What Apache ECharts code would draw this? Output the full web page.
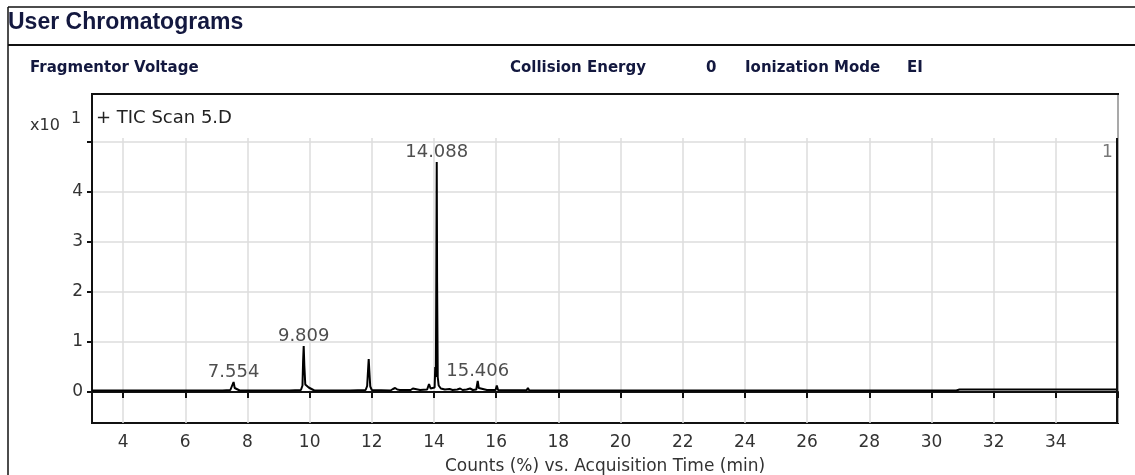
<!DOCTYPE html>
<html>
<head>
<meta charset="utf-8">
<title>User Chromatograms</title>
<script src="https://cdn.jsdelivr.net/npm/echarts@6/dist/echarts.min.js"></script>
<style>
  html, body { margin: 0; padding: 0; background: #fff; }
  #chart { width: 1135px; height: 475px; }
</style>
</head>
<body>
<div id="chart"></div>
<script>
// TIC trace: [time (min), counts x10^1]
const ticTrace = [
  [3.00, 0.03],
  [4.28, 0.03], [4.30, 0.05], [4.32, 0.03],
  [5.33, 0.03], [5.35, 0.045], [5.37, 0.03],
  [7.20, 0.03], [7.45, 0.04], [7.50, 0.07], [7.554, 0.2], [7.59, 0.08], [7.65, 0.04], [7.75, 0.03],
  [8.62, 0.03], [8.66, 0.07], [8.70, 0.03],
  [9.08, 0.03], [9.10, 0.045], [9.12, 0.03],
  [9.35, 0.03], [9.37, 0.045], [9.39, 0.03],
  [9.72, 0.04], [9.77, 0.13], [9.79, 0.62], [9.809, 0.92], [9.83, 0.52], [9.86, 0.15], [9.92, 0.11], [9.97, 0.09], [10.03, 0.05], [10.15, 0.03],
  [10.53, 0.03], [10.55, 0.045], [10.57, 0.03],
  [11.30, 0.03], [11.33, 0.04], [11.36, 0.03],
  [11.80, 0.04], [11.85, 0.12], [11.88, 0.45], [11.90, 0.66], [11.92, 0.42], [11.95, 0.11], [12.00, 0.04],
  [12.60, 0.03], [12.68, 0.06], [12.75, 0.08], [12.82, 0.05], [12.90, 0.04],
  [13.02, 0.04], [13.07, 0.06], [13.12, 0.04],
  [13.25, 0.04], [13.32, 0.07], [13.38, 0.04],
  [13.55, 0.04],
  [13.78, 0.05], [13.84, 0.16], [13.89, 0.07], [13.95, 0.05],
  [14.02, 0.09], [14.04, 0.5], [14.06, 0.3], [14.075, 2.5], [14.088, 4.6], [14.10, 2.2], [14.12, 0.3], [14.15, 0.13], [14.22, 0.07],
  [14.35, 0.05], [14.50, 0.06], [14.60, 0.04], [14.75, 0.05], [14.84, 0.07], [14.92, 0.04], [15.05, 0.05], [15.16, 0.07], [15.25, 0.04],
  [15.36, 0.05], [15.406, 0.22], [15.44, 0.08], [15.50, 0.04],
  [15.70, 0.04], [15.98, 0.04], [16.02, 0.13], [16.06, 0.04],
  [16.50, 0.035], [16.98, 0.035], [17.02, 0.08], [17.06, 0.035],
  [18.0, 0.03], [22.0, 0.03], [26.0, 0.03], [30.8, 0.03], [30.9, 0.05], [36.0, 0.05]
]

// peaks that carry a retention time label
const labelledPeaks = [7.554, 9.809, 14.088, 15.406]

// scan marker at the far right, with its label
const markers = [{ time: 35.96, label: '1' }]

const xTicks = [4, 6, 8, 10, 12, 14, 16, 18, 20, 22, 24, 26, 28, 30, 32, 34, 36]
const xTickLabels = [4, 6, 8, 10, 12, 14, 16, 18, 20, 22, 24, 26, 28, 30, 32, 34]
const yTicks = [0, 1, 2, 3, 4, 5]
const yTickLabels = [0, 1, 2, 3, 4]

const FONT = '"DejaVu Sans", Verdana, sans-serif'
const NAVY = '#13183f'

function peakPoints() {
  return labelledPeaks.map(t => {
    const hit = ticTrace.find(p => p[0] === t)
    return [t, hit ? hit[1] : 0]
  })
}

function headerText(text, x, y) {
  return {
    type: 'text',
    x: x,
    y: y,
    silent: true,
    style: {
      text: text,
      font: 'bold 15px ' + FONT,
      fill: NAVY,
      verticalAlign: 'middle'
    }
  }
}

function getOptions() {
  return {
    animation: false,
    backgroundColor: '#fff',
    grid: {
      left: 92,
      right: 17,
      top: 94,
      bottom: 52,
      outerBoundsMode: 'none',
      containLabel: false,
      show: true,
      borderColor: '#111',
      borderWidth: 2
    },
    xAxis: {
      type: 'value',
      min: 3,
      max: 36,
      name: 'Counts (%) vs. Acquisition Time (min)',
      nameLocation: 'middle',
      nameGap: 35,
      nameTextStyle: { fontFamily: FONT, fontSize: 17, color: '#333' },
      axisLine: { lineStyle: { color: '#111', width: 2 } },
      axisTick: { customValues: xTicks, length: 6, lineStyle: { color: '#111', width: 2 } },
      axisLabel: { customValues: xTickLabels, fontFamily: FONT, fontSize: 17, color: '#333', margin: 11 },
      splitLine: { show: true, lineStyle: { color: '#dcdcdc', width: 1.5 } }
    },
    yAxis: {
      type: 'value',
      min: -0.62,
      max: 5.96,
      axisLine: { show: true, lineStyle: { color: '#111', width: 2 } },
      axisTick: { show: true, customValues: yTicks, length: 5, lineStyle: { color: '#111', width: 2 } },
      axisLabel: { customValues: yTickLabels, fontFamily: FONT, fontSize: 17, color: '#333', margin: 9 },
      splitLine: { show: true, lineStyle: { color: '#dcdcdc', width: 1.5 } }
    },
    graphic: [
      // outer frame and title bar
      { type: 'line', silent: true, shape: { x1: 8, y1: 7, x2: 1135, y2: 7 }, style: { stroke: '#111', lineWidth: 1.5 } },
      { type: 'line', silent: true, shape: { x1: 8, y1: 7, x2: 8, y2: 475 }, style: { stroke: '#111', lineWidth: 1.5 } },
      { type: 'line', silent: true, shape: { x1: 8, y1: 45, x2: 1135, y2: 45 }, style: { stroke: '#111', lineWidth: 2 } },
      {
        type: 'text', x: 8, y: 23, silent: true,
        style: { text: 'User Chromatograms', font: 'bold 23px "Liberation Sans", Arial, sans-serif', fill: NAVY, verticalAlign: 'middle' }
      },
      headerText('Fragmentor Voltage', 30, 68),
      headerText('Collision Energy', 510, 68),
      headerText('0', 706, 68),
      headerText('Ionization Mode', 745, 68),
      headerText('EI', 907, 68),
      // blank band at the top of the plot, where the grid lines stop
      { type: 'rect', z: 1, silent: true, shape: { x: 93, y: 94, width: 1024, height: 44 }, style: { fill: '#fff' } },
      { type: 'line', z: 2, silent: true, shape: { x1: 91, y1: 94, x2: 1119, y2: 94 }, style: { stroke: '#111', lineWidth: 2 } },
      {
        type: 'text', x: 96, y: 118, z: 10, silent: true,
        style: { text: '+ TIC Scan 5.D', font: '18px ' + FONT, fill: '#222', verticalAlign: 'middle' }
      },
      {
        type: 'text', x: 30, y: 126, z: 10, silent: true,
        style: { text: 'x10', font: '16px ' + FONT, fill: '#333', verticalAlign: 'middle' }
      },
      {
        type: 'text', x: 71, y: 119, z: 10, silent: true,
        style: { text: '1', font: '16px ' + FONT, fill: '#333', verticalAlign: 'middle' }
      }
    ],
    series: [
      {
        name: 'TIC Scan 5.D',
        type: 'line',
        data: ticTrace,
        showSymbol: false,
        symbol: 'none',
        sampling: null,
        z: 3,
        lineStyle: { color: '#000', width: 2 },
        markLine: {
          silent: true,
          symbol: 'none',
          label: { show: false },
          lineStyle: { color: '#111', width: 2, type: 'solid' },
          data: markers.map(m => [{ coord: [m.time, 5.08] }, { coord: [m.time, -0.62] }])
        },
        markPoint: {
          silent: true,
          symbol: 'circle',
          symbolSize: 0,
          label: {
            show: true,
            position: 'inside',
            fontFamily: FONT,
            fontSize: 17,
            color: '#777',
            formatter: p => p.name
          },
          data: markers.map(m => ({ name: m.label, coord: [m.time - 0.3, 4.78] }))
        }
      },
      {
        name: 'peak labels',
        type: 'scatter',
        data: peakPoints(),
        symbolSize: 0,
        silent: true,
        z: 4,
        label: {
          show: true,
          position: 'top',
          distance: 1,
          fontFamily: FONT,
          fontSize: 18,
          color: '#222',
          formatter: p => p.value[0].toFixed(3)
        }
      }
    ]
  }
}

const myChart = echarts.init(document.getElementById('chart'))
myChart.setOption(getOptions())
</script>
</body>
</html>
